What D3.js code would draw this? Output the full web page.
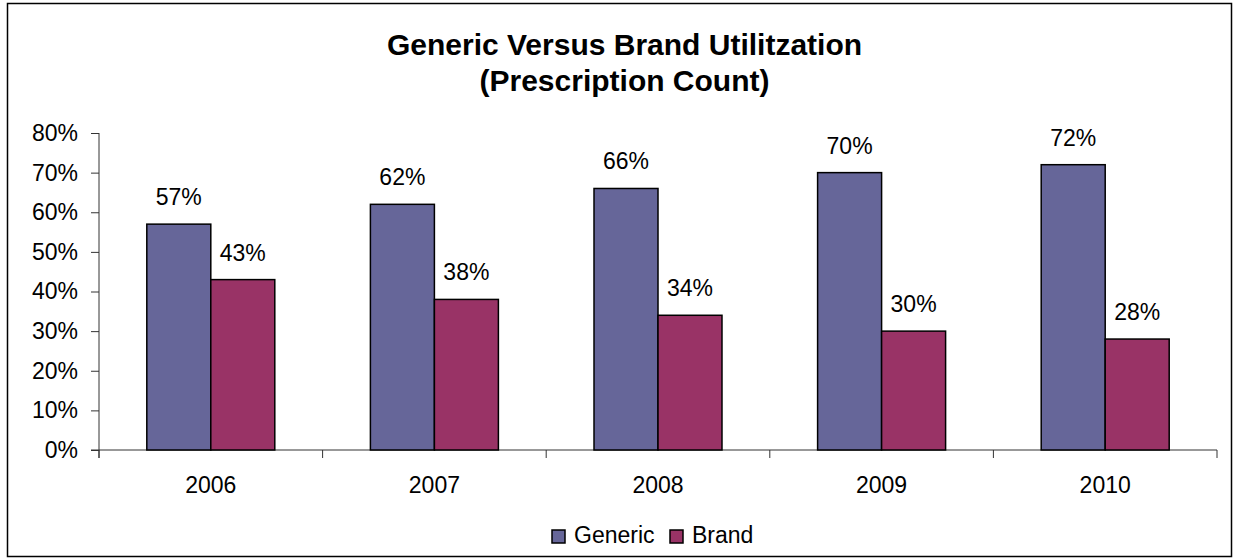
<!DOCTYPE html>
<html>
<head>
<meta charset="utf-8">
<script src="https://cdn.jsdelivr.net/npm/d3@7"></script>
<style>
  html, body { margin: 0; padding: 0; background: #fff; }
  svg { display: block; font-family: "Liberation Sans", Arial, sans-serif; }
</style>
</head>
<body>
<svg id="chart" width="1235" height="560"></svg>
<script>
const years = ['2006', '2007', '2008', '2009', '2010'];
const series = ['Generic', 'Brand'];
const generic = [0.57, 0.62, 0.66, 0.70, 0.72];
const brand = [0.43, 0.38, 0.34, 0.30, 0.28];
const yTicks = [0, 0.1, 0.2, 0.3, 0.4, 0.5, 0.6, 0.7, 0.8];
const colors = ['#666699', '#993366'];

const width = 1235, height = 560;
const margin = { top: 133, right: 18, bottom: 110, left: 99 };
const svg = d3.select('#chart');

// outer frame
svg.append('rect')
  .attr('x', 7.5).attr('y', 3.5)
  .attr('width', width - 11).attr('height', height - 7)
  .attr('fill', 'none').attr('stroke', '#000').attr('stroke-width', 1.5);

svg.append('text')
  .attr('x', width / 2 + 7).attr('y', 55)
  .attr('text-anchor', 'middle')
  .attr('font-size', 30).attr('font-weight', 'bold')
  .text('Generic Versus Brand Utilitzation');
svg.append('text')
  .attr('x', width / 2 + 7).attr('y', 91)
  .attr('text-anchor', 'middle')
  .attr('font-size', 30).attr('font-weight', 'bold')
  .text('(Prescription Count)');

const x0 = d3.scaleBand()
  .domain(years)
  .range([margin.left, width - margin.right])
  .padding(0);

const x1 = d3.scaleBand()
  .domain(series)
  .range([0, x0.bandwidth()])
  .paddingInner(0)
  .paddingOuter(0.747);

const y = d3.scaleLinear()
  .domain([0, 0.8])
  .range([height - margin.bottom, margin.top]);

// y axis
const yAxis = svg.append('g')
  .attr('transform', `translate(${margin.left},0)`)
  .call(d3.axisLeft(y).tickValues(yTicks).tickSize(8).tickSizeOuter(0)
    .tickFormat(d3.format('.0%')));
yAxis.select('.domain').remove();
yAxis.selectAll('line').attr('stroke', '#333');
yAxis.selectAll('text')
  .attr('font-size', 23).attr('fill', '#000').attr('x', -21)
  .attr('font-family', '"Liberation Sans", Arial, sans-serif');
svg.append('line')
  .attr('x1', margin.left).attr('x2', margin.left)
  .attr('y1', y(0.8)).attr('y2', y(0) + 8)
  .attr('stroke', '#333');

// x axis
svg.append('line')
  .attr('x1', margin.left - 8).attr('x2', x0.range()[1])
  .attr('y1', y(0)).attr('y2', y(0))
  .attr('stroke', '#333');
const bounds = years.map(d => x0(d)).concat([x0.range()[1]]);
svg.selectAll('.xtick')
  .data(bounds)
  .enter().append('line')
  .attr('class', 'xtick')
  .attr('x1', d => d).attr('x2', d => d)
  .attr('y1', y(0)).attr('y2', y(0) + 8)
  .attr('stroke', '#333');
svg.selectAll('.xlabel')
  .data(years)
  .enter().append('text')
  .attr('class', 'xlabel')
  .attr('x', d => x0(d) + x0.bandwidth() / 2)
  .attr('y', y(0) + 43)
  .attr('text-anchor', 'middle')
  .attr('font-size', 23)
  .text(d => d);

// bars
const rows = years.map((yr, i) => ({ year: yr, values: [generic[i], brand[i]] }));
const group = svg.selectAll('.grp')
  .data(rows)
  .enter().append('g')
  .attr('class', 'grp')
  .attr('transform', d => `translate(${x0(d.year)},0)`);

const cells = group.selectAll('g')
  .data(d => d.values.map((v, j) => ({ key: series[j], value: v, idx: j })))
  .enter().append('g');

cells.append('rect')
  .attr('x', d => x1(d.key))
  .attr('y', d => y(d.value))
  .attr('width', x1.bandwidth())
  .attr('height', d => y(0) - y(d.value))
  .attr('fill', d => colors[d.idx])
  .attr('stroke', '#000')
  .attr('stroke-width', 1.5);

cells.append('text')
  .attr('x', d => x1(d.key) + x1.bandwidth() / 2)
  .attr('y', d => y(d.value) - 19)
  .attr('text-anchor', 'middle')
  .attr('font-size', 23)
  .text(d => d3.format('.0%')(d.value));

// legend
const legend = svg.append('g').attr('transform', 'translate(552,530)');
const legendX = [0, 118];
series.forEach((s, i) => {
  const g = legend.append('g').attr('transform', `translate(${legendX[i]},0)`);
  g.append('rect')
    .attr('width', 13).attr('height', 13)
    .attr('fill', colors[i]).attr('stroke', '#000').attr('stroke-width', 1.5);
  g.append('text')
    .attr('x', 22).attr('y', 13)
    .attr('font-size', 23)
    .text(s);
});
</script>
</body>
</html>
